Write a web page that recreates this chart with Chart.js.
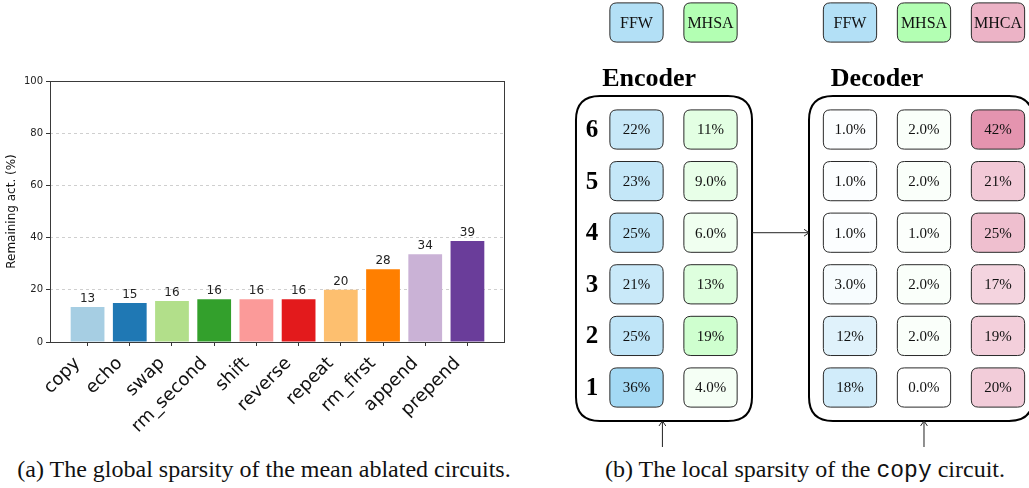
<!DOCTYPE html>
<html>
<head>
<meta charset="utf-8">
<script src="https://cdn.jsdelivr.net/npm/chart.js@4.4.1/dist/chart.umd.min.js"></script>
<style>
  html, body { margin: 0; padding: 0; background: #fff; }
  body { width: 1029px; height: 488px; position: relative; overflow: hidden; }
  #barChart { position: absolute; left: 0; top: 0; }
  #circuitChart { position: absolute; left: 560px; top: 0; }
  .caption {
    position: absolute; top: 457px;
    font-family: 'Liberation Serif', 'Times New Roman', serif;
    font-size: 24px; line-height: 24px; color: #111;
    white-space: nowrap; transform: translateX(-50%);
  }
  .caption code { font-family: 'Liberation Mono', monospace; font-size: 23px; }
</style>
</head>
<body>
<canvas id="barChart" width="540" height="450"></canvas>
<canvas id="circuitChart" width="469" height="455"></canvas>
<div class="caption" style="left:264px">(a) The global sparsity of the mean ablated circuits.</div>
<div class="caption" style="left:805px">(b) The local sparsity of the <code>copy</code> circuit.</div>
<script>
// (a) bar chart data
let tasks = ['copy', 'echo', 'swap', 'rm_second', 'shift', 'reverse', 'repeat', 'rm_first', 'append', 'prepend'];
let remaining = [13.4, 14.9, 15.7, 16.4, 16.4, 16.4, 20.0, 27.9, 33.6, 38.7];
let yTicks = [0, 20, 40, 60, 80, 100];
let barColors = ['#a6cee3', '#1f78b4', '#b2df8a', '#33a02c', '#fb9a99', '#e31a1c', '#fdbf6f', '#ff7f00', '#cab2d6', '#6a3d9a'];

// (b) copy circuit, values per layer 1..6
let layers = [1, 2, 3, 4, 5, 6];
let encFFW = [36, 25, 21, 25, 23, 22];
let encMHSA = [4, 19, 13, 6, 9, 11];
let decFFW = [18, 12, 3, 1, 1, 1];
let decMHSA = [0, 2, 2, 1, 2, 2];
let decMHCA = [20, 19, 17, 25, 21, 42];

let baseColors = { FFW: [0, 150, 225], MHSA: [0, 255, 0], MHCA: [191, 0, 64] };

let mix = (rgb, pct) => {
    let f = pct / 100;
    let c = rgb.map(v => Math.round(v * f + 255 * (1 - f)));
    return `rgb(${c[0]},${c[1]},${c[2]})`;
}

let fmtPct = (v) => (v < 10 ? v.toFixed(1) : v.toFixed(0)) + '%';

let roundRect = (ctx, x, y, w, h, r) => {
    ctx.beginPath();
    ctx.moveTo(x + r, y);
    ctx.lineTo(x + w - r, y);
    ctx.quadraticCurveTo(x + w, y, x + w, y + r);
    ctx.lineTo(x + w, y + h - r);
    ctx.quadraticCurveTo(x + w, y + h, x + w - r, y + h);
    ctx.lineTo(x + r, y + h);
    ctx.quadraticCurveTo(x, y + h, x, y + h - r);
    ctx.lineTo(x, y + r);
    ctx.quadraticCurveTo(x, y, x + r, y);
    ctx.closePath();
}

let arrow = (ctx, x1, y1, x2, y2) => {
    let a = Math.atan2(y2 - y1, x2 - x1);
    ctx.beginPath();
    ctx.moveTo(x1, y1);
    ctx.lineTo(x2, y2);
    ctx.moveTo(x2 - 6 * Math.cos(a - 0.6), y2 - 6 * Math.sin(a - 0.6));
    ctx.lineTo(x2, y2);
    ctx.lineTo(x2 - 6 * Math.cos(a + 0.6), y2 - 6 * Math.sin(a + 0.6));
    ctx.stroke();
}

// ---- (a) ----
let barLabels = {
    id: 'barLabels',
    afterDatasetsDraw(chart) {
        let ctx = chart.ctx;
        let a = chart.chartArea;
        ctx.save();
        ctx.font = '12px "DejaVu Sans"';
        ctx.fillStyle = '#222';
        ctx.textAlign = 'center';
        ctx.textBaseline = 'bottom';
        chart.getDatasetMeta(0).data.forEach((bar, i) => {
            ctx.fillText(Math.round(remaining[i]), bar.x, bar.y - 2);
        });
        // axes frame
        ctx.strokeStyle = '#3a3a3a';
        ctx.lineWidth = 1;
        ctx.strokeRect(a.left + 0.5, a.top + 0.5, a.right - a.left - 1, a.bottom - a.top);
        ctx.restore();
    }
}

let barChart = new Chart(document.getElementById('barChart'), {
    type: 'bar',
    data: {
        datasets: [{
            data: tasks.map((t, i) => ({ x: i, y: remaining[i] })),
            backgroundColor: barColors,
            barPercentage: 0.8,
            categoryPercentage: 1.0,
        }]
    },
    options: {
        responsive: false,
        animation: false,
        events: [],
        layout: { padding: { top: 81, right: 35, left: 0, bottom: 0 } },
        plugins: { legend: { display: false }, tooltip: { enabled: false } },
        scales: {
            x: {
                type: 'linear',
                min: -0.89,
                max: 9.89,
                offset: false,
                afterBuildTicks: (scale) => { scale.ticks = tasks.map((t, i) => ({ value: i })); },
                afterFit: (scale) => {
                    scale.height = 108;
                    scale.paddingLeft = 0;
                    scale.paddingRight = 0;
                },
                grid: { offset: false, drawOnChartArea: false, drawTicks: true, tickLength: 4, tickColor: '#333' },
                border: { display: false },
                ticks: {
                    autoSkip: false,
                    minRotation: 45,
                    maxRotation: 45,
                    padding: 7,
                    labelOffset: -10,
                    color: '#111',
                    font: { family: 'DejaVu Sans', size: 18 },
                    callback: (v) => tasks[v],
                }
            },
            y: {
                min: 0,
                max: 100,
                afterBuildTicks: (scale) => { scale.ticks = yTicks.map(v => ({ value: v })); },
                afterFit: (scale) => { scale.width = 50; },
                grid: {
                    color: (c) => (c.tick && (c.tick.value === 0 || c.tick.value === 100)) ? 'rgba(0,0,0,0)' : '#cfcfcf',
                    tickColor: '#333',
                    tickLength: 4,
                    tickBorderDash: [],
                },
                border: { display: false, dash: [3, 3] },
                ticks: { color: '#222', padding: 3, font: { family: 'DejaVu Sans', size: 10 } },
                title: {
                    display: true,
                    text: 'Remaining act. (%)',
                    color: '#111',
                    padding: { top: 5, bottom: 0 },
                    font: { family: 'DejaVu Sans', size: 12 },
                }
            }
        }
    },
    plugins: [barLabels]
});

// ---- (b) ----
// column slots: encoder at 0..1, decoder at 2.885..4.885
let columns = [
    { kind: 'FFW', x: 0, values: encFFW },
    { kind: 'MHSA', x: 1, values: encMHSA },
    { kind: 'FFW', x: 2.885, values: decFFW },
    { kind: 'MHSA', x: 3.885, values: decMHSA },
    { kind: 'MHCA', x: 4.885, values: decMHCA },
];

let diagram = {
    id: 'diagram',
    beforeDatasetsDraw(chart) {
        let ctx = chart.ctx;
        let { x, y } = chart.scales;
        ctx.save();
        // block outlines
        ctx.strokeStyle = '#000';
        ctx.lineWidth = 2;
        [[-0.818, 1.561], [2.331, 5.36]].forEach(([x0, x1]) => {
            let l = x.getPixelForValue(x0), r = x.getPixelForValue(x1);
            let t = y.getPixelForValue(6.649), b = y.getPixelForValue(0.351);
            roundRect(ctx, l, t, r - l, b - t, 24);
            ctx.stroke();
        });
        // titles
        ctx.fillStyle = '#000';
        ctx.font = 'bold 26px "Liberation Serif"';
        ctx.textAlign = 'center';
        ctx.textBaseline = 'alphabetic';
        ctx.fillText('Encoder', x.getPixelForValue(0.17), y.getPixelForValue(6.843));
        ctx.fillText('Decoder', x.getPixelForValue(3.25), y.getPixelForValue(6.843));
        // layer numbers
        ctx.font = 'bold 25px "Liberation Serif"';
        ctx.textBaseline = 'middle';
        layers.forEach(l => ctx.fillText(l, x.getPixelForValue(-0.6), y.getPixelForValue(l) + 1));
        // arrows
        ctx.strokeStyle = '#222';
        ctx.lineWidth = 1;
        arrow(ctx, x.getPixelForValue(1.561), y.getPixelForValue(4), x.getPixelForValue(2.331), y.getPixelForValue(4));
        arrow(ctx, x.getPixelForValue(0.35), y.getPixelForValue(-0.153), x.getPixelForValue(0.35), y.getPixelForValue(0.351));
        arrow(ctx, x.getPixelForValue(3.885), y.getPixelForValue(-0.153), x.getPixelForValue(3.885), y.getPixelForValue(0.351));
        ctx.restore();
    },
    afterDatasetsDraw(chart) {
        let ctx = chart.ctx;
        let { x, y } = chart.scales;
        let w = 0.72 * (x.getPixelForValue(1) - x.getPixelForValue(0));
        let h = 0.76 * (y.getPixelForValue(0) - y.getPixelForValue(1));
        let box = (cx, cy, fill, text, font) => {
            roundRect(ctx, cx - w / 2, cy - h / 2, w, h, 7);
            ctx.fillStyle = fill;
            ctx.fill();
            ctx.strokeStyle = '#2a2a2a';
            ctx.lineWidth = 1;
            ctx.stroke();
            ctx.fillStyle = '#111';
            ctx.font = font;
            ctx.fillText(text, cx, cy + 1);
        }
        ctx.save();
        ctx.textAlign = 'center';
        ctx.textBaseline = 'middle';
        columns.forEach((col, i) => {
            let base = baseColors[col.kind];
            chart.getDatasetMeta(i).data.forEach((pt, j) => {
                box(pt.x, pt.y, mix(base, col.values[j]), fmtPct(col.values[j]), '15px "Liberation Serif"');
            });
            // header boxes
            box(x.getPixelForValue(col.x), y.getPixelForValue(8.074), mix(base, 30), col.kind, '16px "Liberation Serif"');
        });
        ctx.restore();
    }
}

let circuitChart = new Chart(document.getElementById('circuitChart'), {
    type: 'scatter',
    data: {
        datasets: columns.map(col => ({
            label: col.kind,
            data: layers.map(l => ({ x: col.x, y: l })),
            pointRadius: 0,
            pointHoverRadius: 0,
        }))
    },
    options: {
        responsive: false,
        animation: false,
        events: [],
        layout: { padding: 0 },
        plugins: { legend: { display: false }, tooltip: { enabled: false } },
        scales: {
            x: { type: 'linear', display: false, min: -1.034, max: 5.304 },
            y: { type: 'linear', display: false, min: -0.308, max: 8.51 },
        }
    },
    plugins: [diagram]
});
</script>
</body>
</html>
